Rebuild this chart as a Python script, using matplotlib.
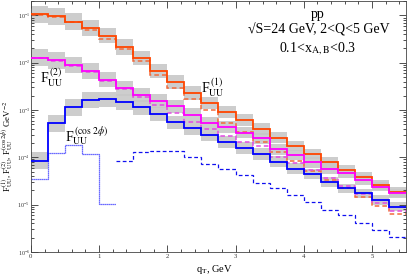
import numpy as np
import matplotlib
matplotlib.use("Agg")
import matplotlib.pyplot as plt
from matplotlib.ticker import MultipleLocator, LogLocator, NullFormatter

plt.rcParams["font.family"] = ["Liberation Serif", "DejaVu Serif"]
plt.rcParams["mathtext.fontset"] = "stix"

# q_T bin edges (GeV)
QT_EDGES = [0.0, 0.25, 0.5, 0.75, 1.0, 1.25, 1.5, 1.75, 2.0, 2.25, 2.5, 2.75,
            3.0, 3.25, 3.5, 3.75, 4.0, 4.25, 4.5, 4.75, 5.0, 5.25, 5.5]

# F_UU^(1): full result (solid) and approximation (dashed)
F1_FULL = [0.105, 0.095, 0.074, 0.055, 0.037, 0.0214, 0.0126, 0.0067, 0.0039,
           0.0023, 0.00141, 0.00091, 0.00061, 0.0004, 0.00026, 0.000174,
           0.000117, 7.8e-5, 5.5e-5, 3.9e-5, 2.6e-5, 1.86e-5]
F1_APPROX = [0.103, 0.092, 0.071, 0.050, 0.032, 0.019, 0.0107, 0.0055, 0.0029,
             0.00167, 0.001, 0.00054, 0.00034, 0.00021, 0.00013, 8.2e-5,
             5.2e-5, 3.4e-5, 2.2e-5, 1.47e-5, 9.5e-6, 6.3e-6]

# F_UU^(2)
F2_FULL = [0.0128, 0.0113, 0.0089, 0.0066, 0.0044, 0.0029, 0.00205, 0.00155,
           0.0012, 0.00078, 0.00054, 0.00044, 0.00033, 0.00025, 0.000147,
           0.000111, 7.8e-5, 5.8e-5, 4.6e-5, 3.3e-5, 2.4e-5, 1.74e-5]
F2_APPROX = [0.0127, 0.011, 0.0086, 0.0063, 0.0041, 0.00275, 0.0019, 0.00126,
             0.00085, 0.00056, 0.00039, 0.00028, 0.00021, 0.000174, 0.0001,
             7.5e-5, 5.4e-5, 3.6e-5, 2.5e-5, 1.7e-5, 1.1e-5, 7.5e-6]

# third solid curve with band
F3_FULL = [8.5e-5, 0.00052, 0.00113, 0.00161, 0.0017, 0.00148, 0.00113,
           0.00081, 0.00055, 0.00041, 0.0003, 0.00021, 0.000158, 0.000117,
           8.1e-5, 5.8e-5, 4.5e-5, 3.0e-5, 2.2e-5, 1.74e-5, 1.26e-5, 9.1e-6]

# F_UU^(cos 2phi): dotted at low q_T, dashed above 1.25 GeV
FCOS_LOW = [3.5e-5, 0.000126, 0.000181, 0.00012, 1.03e-5]
FCOS_HIGH = [8.5e-5, 0.000131, 0.000137, 0.000135, 0.000102, 7.4e-5, 5.6e-5,
             4.2e-5, 2.8e-5, 2.2e-5, 1.58e-5, 1.15e-5, 7.9e-6, 6.0e-6,
             4.1e-6, 2.9e-6, 2.1e-6]

# half width of the uncertainty bands, in decades
BAND_DEC = [0.18, 0.18, 0.17, 0.17, 0.16, 0.16, 0.15, 0.15, 0.14, 0.14, 0.13,
            0.13, 0.12, 0.12, 0.12, 0.11, 0.11, 0.11, 0.10, 0.10, 0.10, 0.10]

fig = plt.figure(figsize=(4.07, 2.76), dpi=100)
ax = fig.add_axes([0.076, 0.087, 0.9215, 0.909])

band = np.array(BAND_DEC)
for vals in (F1_FULL, F2_FULL, F3_FULL):
    v = np.array(vals)
    ax.stairs(v * 10**band, QT_EDGES, baseline=v / 10**band, fill=True,
              color="#c8c8c8", alpha=0.9, lw=0, zorder=1)

ax.stairs(F1_APPROX, QT_EDGES, baseline=None, color="#f26a3a", lw=1.1,
          ls=(0, (3, 2)), zorder=2)
ax.stairs(F2_APPROX, QT_EDGES, baseline=None, color="#e24ae2", lw=1.1,
          ls=(0, (3, 2)), zorder=2)
ax.stairs(F1_FULL, QT_EDGES, baseline=None, color="#ff4500", lw=1.3, zorder=3)
ax.stairs(F2_FULL, QT_EDGES, baseline=None, color="#ff00ff", lw=1.3, zorder=3)
ax.stairs(F3_FULL, QT_EDGES, baseline=None, color="#0000ff", lw=1.3, zorder=3)
ax.stairs(FCOS_LOW, QT_EDGES[:6], baseline=None, color="#3a3aff", lw=0.9,
          ls=(0, (1, 0.6)), zorder=2)
ax.stairs(FCOS_HIGH, QT_EDGES[5:], baseline=None, color="#1010f0", lw=0.9,
          ls=(0, (3, 2)), zorder=2)

ax.set_yscale("log")
ax.set_xlim(0, 5.5)
ax.set_ylim(1e-6, 0.2)

ax.xaxis.set_major_locator(MultipleLocator(1))
ax.xaxis.set_minor_locator(MultipleLocator(0.2))
ax.yaxis.set_major_locator(LogLocator(base=10, numticks=10))
ax.yaxis.set_minor_locator(LogLocator(base=10, subs=np.arange(2, 10), numticks=20))
ax.yaxis.set_minor_formatter(NullFormatter())
ax.tick_params(which="both", direction="in", top=True, right=True,
               labelsize=4.8, width=0.6, colors="#333333", pad=1.5)
ax.tick_params(axis="y", labelsize=4.3, pad=0.8)
ax.tick_params(which="major", length=5)
ax.tick_params(which="minor", length=2.5)
for s in ax.spines.values():
    s.set_linewidth(0.6)
    s.set_color("#444444")

ax.set_xlabel(r"q$_{\rm T}$, GeV", fontsize=7.5)
ax.xaxis.set_label_coords(0.49, -0.042)
fig.text(0.0, 0.47,
         r"F$_{\rm UU}^{(1)}$, F$_{\rm UU}^{(2)}$, F$_{\rm UU}^{(\cos\,2\phi)}$ GeV$^{-2}$",
         rotation=90, ha="left", va="center", fontsize=6.3)

ax.text(0.765, 0.948, "pp", transform=ax.transAxes, ha="center", va="center",
        fontsize=10)
ax.text(0.768, 0.884, "\u221aS=24 GeV, 2<Q<5 GeV", transform=ax.transAxes,
        ha="center", va="center", fontsize=10)
ax.text(0.765, 0.81, r"0.1<x$_{\rm A,B}$<0.3", transform=ax.transAxes,
        ha="center", va="center", fontsize=10)

ax.text(2.5, 0.0029, r"F$_{\rm UU}^{\,(1)}$", ha="left", va="center", fontsize=10)
ax.text(0.13, 0.0047, r"F$_{\rm UU}^{\,(2)}$", ha="left", va="center", fontsize=10)
ax.text(0.5, 2.7e-4, r"F$_{\rm UU}^{\,(\cos\,2\phi)}$", ha="left", va="center",
        fontsize=10)

fig.savefig("out.png", dpi=100)
